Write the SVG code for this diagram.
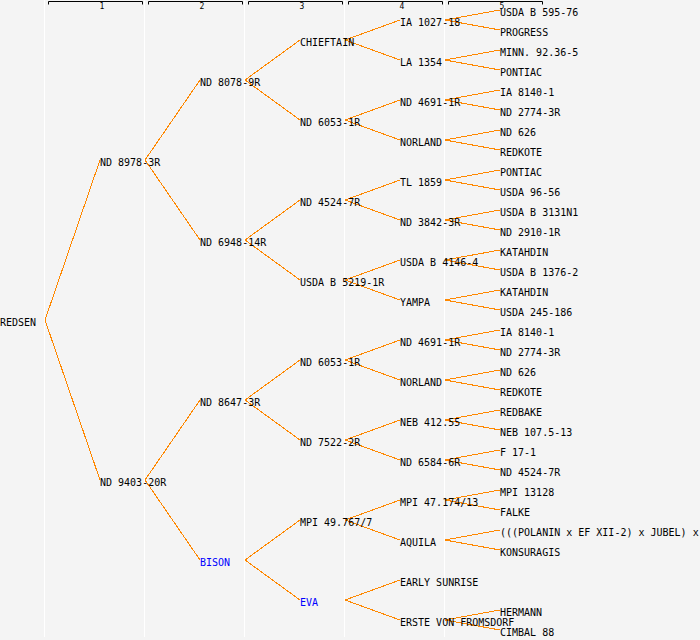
<svg xmlns="http://www.w3.org/2000/svg" width="700" height="640" viewBox="0 0 700 640">
<style>
.bg{fill:#f4f4f4}
.sep{stroke:#ffffff;stroke-width:1}
.hdr{fill:none;stroke:#000;stroke-width:1}
.hl{font-family:"DejaVu Sans Mono",monospace;font-size:8px;fill:#000;text-anchor:middle}
.c path{fill:none;stroke:#ff8800;stroke-width:1;shape-rendering:crispEdges}
text.n{font-family:"DejaVu Sans Mono","Liberation Mono",monospace;font-size:10px;fill:#000}
text.b{fill:#0000ff}
</style>
<rect class="bg" x="0" y="0" width="700" height="640"/>
<g id="separators">
<line class="sep" x1="44.5" y1="0" x2="44.5" y2="637"/>
<line class="sep" x1="144.5" y1="0" x2="144.5" y2="637"/>
<line class="sep" x1="244.5" y1="0" x2="244.5" y2="637"/>
<line class="sep" x1="344.5" y1="0" x2="344.5" y2="637"/>
<line class="sep" x1="444.5" y1="0" x2="444.5" y2="637"/>
</g>
<g id="header">
<path class="hdr" d="M48.5,4.5V1.5H142.5V4.5"/>
<path class="hdr" d="M148.5,4.5V1.5H242.5V4.5"/>
<path class="hdr" d="M248.5,4.5V1.5H342.5V4.5"/>
<path class="hdr" d="M348.5,4.5V1.5H442.5V4.5"/>
<path class="hdr" d="M448.5,4.5V1.5H542.5V4.5"/>
<text class="hl" x="102" y="8.5">1</text>
<text class="hl" x="202" y="8.5">2</text>
<text class="hl" x="302" y="8.5">3</text>
<text class="hl" x="402" y="8.5">4</text>
<text class="hl" x="502" y="8.5">5</text>
</g>
<g id="connectors" class="c">
<path d="M100,160L45,320L100,480"/>
<path d="M200,80L145,160L200,240"/>
<path d="M200,400L145,480L200,560"/>
<path d="M300,40L245,80L300,120"/>
<path d="M300,200L245,240L300,280"/>
<path d="M300,360L245,400L300,440"/>
<path d="M300,520L245,560L300,600"/>
<path d="M400,20L345,40L400,60"/>
<path d="M400,100L345,120L400,140"/>
<path d="M400,180L345,200L400,220"/>
<path d="M400,260L345,280L400,300"/>
<path d="M400,340L345,360L400,380"/>
<path d="M400,420L345,440L400,460"/>
<path d="M400,500L345,520L400,540"/>
<path d="M400,580L345,600L400,620"/>
<path d="M500,10L445,20L500,30"/>
<path d="M500,50L445,60L500,70"/>
<path d="M500,90L445,100L500,110"/>
<path d="M500,130L445,140L500,150"/>
<path d="M500,170L445,180L500,190"/>
<path d="M500,210L445,220L500,230"/>
<path d="M500,250L445,260L500,270"/>
<path d="M500,290L445,300L500,310"/>
<path d="M500,330L445,340L500,350"/>
<path d="M500,370L445,380L500,390"/>
<path d="M500,410L445,420L500,430"/>
<path d="M500,450L445,460L500,470"/>
<path d="M500,490L445,500L500,510"/>
<path d="M500,530L445,540L500,550"/>
<path d="M500,610L445,620L500,630"/>
</g>
<g id="n0"><text class="n" x="0" y="326">REDSEN</text></g>
<g id="n1a"><text class="n" x="100" y="166">ND 8978-3R</text></g>
<g id="n1b"><text class="n" x="100" y="486">ND 9403-20R</text></g>
<g id="n2a"><text class="n" x="200" y="86">ND 8078-9R</text></g>
<g id="n2b"><text class="n" x="200" y="246">ND 6948-14R</text></g>
<g id="n2c"><text class="n" x="200" y="406">ND 8647-3R</text></g>
<g id="n2d"><text class="n b" x="200" y="566">BISON</text></g>
<g id="n3a"><text class="n" x="300" y="46">CHIEFTAIN</text></g>
<g id="n3b"><text class="n" x="300" y="126">ND 6053-1R</text></g>
<g id="n3c"><text class="n" x="300" y="206">ND 4524-7R</text></g>
<g id="n3d"><text class="n" x="300" y="286">USDA B 5219-1R</text></g>
<g id="n3e"><text class="n" x="300" y="366">ND 6053-1R</text></g>
<g id="n3f"><text class="n" x="300" y="446">ND 7522-2R</text></g>
<g id="n3g"><text class="n" x="300" y="526">MPI 49.767/7</text></g>
<g id="n3h"><text class="n b" x="300" y="606">EVA</text></g>
<g id="n4a"><text class="n" x="400" y="26">IA 1027-18</text></g>
<g id="n4b"><text class="n" x="400" y="66">LA 1354</text></g>
<g id="n4c"><text class="n" x="400" y="106">ND 4691-1R</text></g>
<g id="n4d"><text class="n" x="400" y="146">NORLAND</text></g>
<g id="n4e"><text class="n" x="400" y="186">TL 1859</text></g>
<g id="n4f"><text class="n" x="400" y="226">ND 3842-3R</text></g>
<g id="n4g"><text class="n" x="400" y="266">USDA B 4146-4</text></g>
<g id="n4h"><text class="n" x="400" y="306">YAMPA</text></g>
<g id="n4i"><text class="n" x="400" y="346">ND 4691-1R</text></g>
<g id="n4j"><text class="n" x="400" y="386">NORLAND</text></g>
<g id="n4k"><text class="n" x="400" y="426">NEB 412.55</text></g>
<g id="n4l"><text class="n" x="400" y="466">ND 6584-6R</text></g>
<g id="n4m"><text class="n" x="400" y="506">MPI 47.174/13</text></g>
<g id="n4n"><text class="n" x="400" y="546">AQUILA</text></g>
<g id="n4o"><text class="n" x="400" y="586">EARLY SUNRISE</text></g>
<g id="n4p"><text class="n" x="400" y="626">ERSTE VON FROMSDORF</text></g>
<g id="n5a"><text class="n" x="500" y="16">USDA B 595-76</text></g>
<g id="n5b"><text class="n" x="500" y="36">PROGRESS</text></g>
<g id="n5c"><text class="n" x="500" y="56">MINN. 92.36-5</text></g>
<g id="n5d"><text class="n" x="500" y="76">PONTIAC</text></g>
<g id="n5e"><text class="n" x="500" y="96">IA 8140-1</text></g>
<g id="n5f"><text class="n" x="500" y="116">ND 2774-3R</text></g>
<g id="n5g"><text class="n" x="500" y="136">ND 626</text></g>
<g id="n5h"><text class="n" x="500" y="156">REDKOTE</text></g>
<g id="n5i"><text class="n" x="500" y="176">PONTIAC</text></g>
<g id="n5j"><text class="n" x="500" y="196">USDA 96-56</text></g>
<g id="n5k"><text class="n" x="500" y="216">USDA B 3131N1</text></g>
<g id="n5l"><text class="n" x="500" y="236">ND 2910-1R</text></g>
<g id="n5m"><text class="n" x="500" y="256">KATAHDIN</text></g>
<g id="n5n"><text class="n" x="500" y="276">USDA B 1376-2</text></g>
<g id="n5o"><text class="n" x="500" y="296">KATAHDIN</text></g>
<g id="n5p"><text class="n" x="500" y="316">USDA 245-186</text></g>
<g id="n5q"><text class="n" x="500" y="336">IA 8140-1</text></g>
<g id="n5r"><text class="n" x="500" y="356">ND 2774-3R</text></g>
<g id="n5s"><text class="n" x="500" y="376">ND 626</text></g>
<g id="n5t"><text class="n" x="500" y="396">REDKOTE</text></g>
<g id="n5u"><text class="n" x="500" y="416">REDBAKE</text></g>
<g id="n5v"><text class="n" x="500" y="436">NEB 107.5-13</text></g>
<g id="n5w"><text class="n" x="500" y="456">F 17-1</text></g>
<g id="n5x"><text class="n" x="500" y="476">ND 4524-7R</text></g>
<g id="n5y"><text class="n" x="500" y="496">MPI 13128</text></g>
<g id="n5z"><text class="n" x="500" y="516">FALKE</text></g>
<g id="n5aa"><text class="n" x="500" y="536">(((POLANIN x EF XII-2) x JUBEL) x</text></g>
<g id="n5ab"><text class="n" x="500" y="556">KONSURAGIS</text></g>
<g id="n5ac"><text class="n" x="500" y="616">HERMANN</text></g>
<g id="n5ad"><text class="n" x="500" y="636">CIMBAL 88</text></g>
</svg>
